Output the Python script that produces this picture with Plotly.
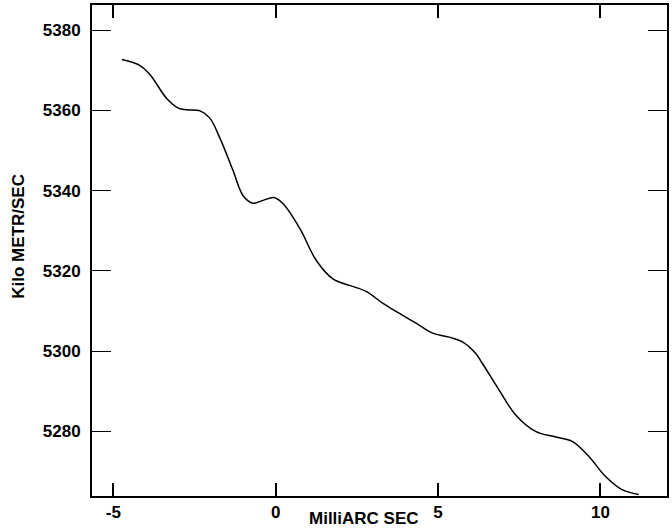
import plotly.graph_objects as go

# Velocity profile along the offset axis
offset_mas = [-4.74, -4.18, -3.87, -3.36, -3.00, -2.74, -2.33, -2.03, -1.72, -1.31,
              -1.00, -0.70, -0.39, -0.06, 0.22, 0.74, 1.25, 1.76, 2.27,
              2.78, 3.29, 3.81, 4.32, 4.83, 5.34, 5.75, 6.16, 6.36, 6.88,
              7.39, 8.00, 8.62, 9.13, 9.64, 10.15, 10.66, 11.18]
velocity_kms = [5372.7, 5371.2, 5368.9, 5363.0, 5360.6, 5360.2, 5359.9, 5358.1, 5353.1, 5344.9,
                5338.7, 5336.9, 5337.6, 5338.3, 5336.8, 5330.6, 5322.6, 5318.0, 5316.4,
                5314.9, 5312.0, 5309.4, 5307.0, 5304.5, 5303.5, 5302.3, 5299.4, 5297.0, 5290.3,
                5284.1, 5280.0, 5278.6, 5277.5, 5273.8, 5268.8, 5265.5, 5264.3]

x_ticks = [-5, 0, 5, 10]
y_ticks = [5280, 5300, 5320, 5340, 5360, 5380]

FONT = "Liberation Sans"

fig = go.Figure()
fig.add_trace(go.Scatter(
    x=offset_mas, y=velocity_kms, mode="lines",
    line=dict(color="black", width=1.5, shape="spline", smoothing=1.0),
    showlegend=False, hoverinfo="skip",
))

fig.update_layout(
    width=672, height=531,
    margin=dict(l=92, r=3, t=3, b=35),
    paper_bgcolor="white", plot_bgcolor="white",
    font=dict(family=FONT, color="black", size=17),
    xaxis=dict(
        range=[-5.66, 12.05], tickvals=x_ticks, ticktext=[str(v) for v in x_ticks],
        showgrid=False, zeroline=False,
        showline=True, linecolor="black", linewidth=2, mirror="ticks",
        ticks="inside", ticklen=13, tickwidth=2, tickcolor="black",
        ticklabelstandoff=0,
        tickfont=dict(family=FONT, size=17, color="black", weight="bold"),
    ),
    yaxis=dict(
        range=[5263.9, 5386.3], tickvals=y_ticks, ticktext=[str(v) for v in y_ticks],
        showgrid=False, zeroline=False,
        showline=True, linecolor="black", linewidth=2, mirror="ticks",
        ticks="inside", ticklen=19, tickwidth=1.2, tickcolor="black",
        ticklabelstandoff=6,
        tickfont=dict(family=FONT, size=17, color="black", weight="bold"),
    ),
    annotations=[
        dict(text="<b>MilliARC SEC</b>", xref="paper", yref="paper",
             x=0.473, y=0, yshift=-22, xanchor="center", yanchor="middle",
             showarrow=False, font=dict(family=FONT, size=17, color="black")),
        dict(text="<b>Kilo METR/SEC</b>", xref="paper", yref="paper",
             x=0, xshift=-73.5, y=0.529, xanchor="center", yanchor="middle",
             textangle=-90, showarrow=False,
             font=dict(family=FONT, size=17, color="black")),
    ],
)

fig.write_html("out.html")
